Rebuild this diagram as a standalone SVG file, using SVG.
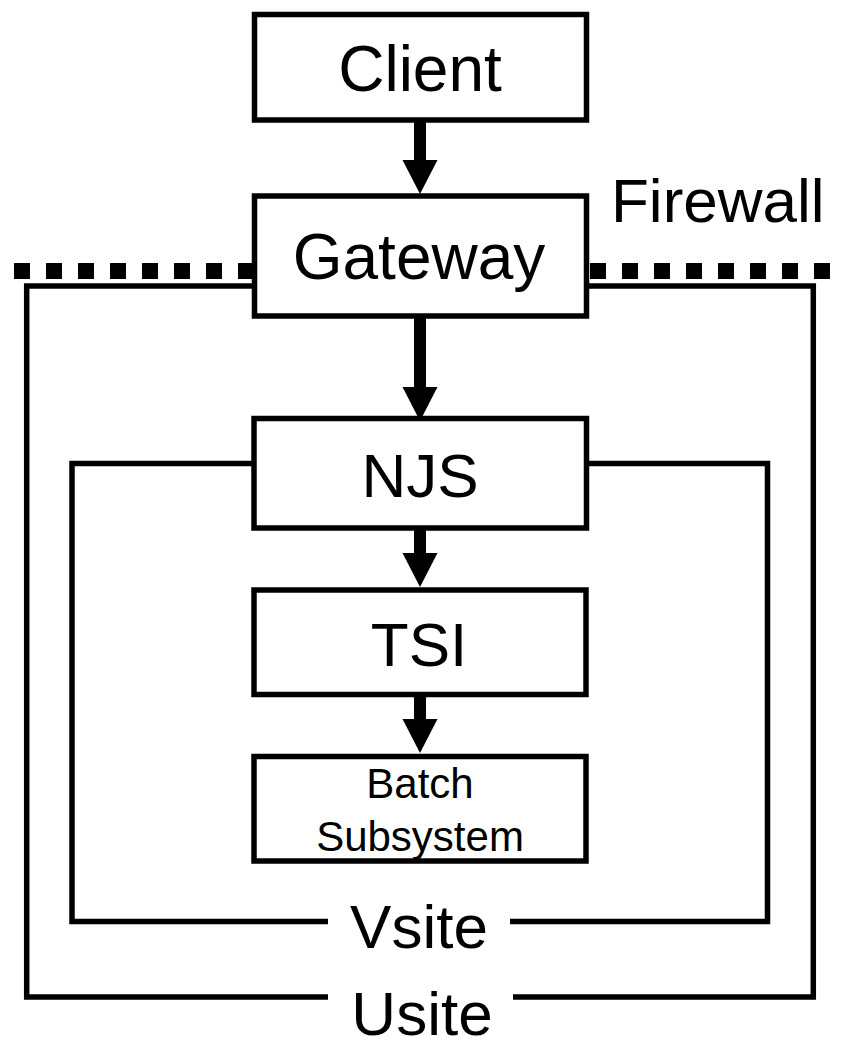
<svg xmlns="http://www.w3.org/2000/svg" width="845" height="1040" viewBox="0 0 845 1040">
<style>
  .box { fill: #fff; stroke: #000; stroke-width: 5.5; }
  .frame { fill: none; stroke: #000; stroke-width: 5.5; }
  .big { font-family: "Liberation Sans", Arial, sans-serif; font-size: 62px; fill: #000; text-anchor: middle; }
  .large { font-size: 64px; }
  .small { font-family: "Liberation Sans", Arial, sans-serif; font-size: 42px; fill: #000; text-anchor: middle; }
  .shaft { stroke: #000; stroke-width: 12; fill: none; }
</style>
<defs>
  <marker id="head" markerUnits="userSpaceOnUse" markerWidth="36" markerHeight="36" viewBox="0 0 34 36" refX="0" refY="18" orient="auto">
    <path d="M0,0.5 L34,18 L0,35.5 z" fill="#000"/>
  </marker>
</defs>
<rect width="845" height="1040" fill="#fff"/>

<g id="firewall">
  <line x1="14" y1="271" x2="832" y2="271" stroke="#000" stroke-width="16" stroke-dasharray="16 16"/>
  <text x="611" y="222" font-family="Liberation Sans, Arial, sans-serif" font-size="62" fill="#000">Firewall</text>
</g>

<g id="usite">
  <path class="frame" d="M254,286 H26.7 V997 H328 M513,997 H813.3 V286 H586"/>
  <text class="big" x="422" y="1035">Usite</text>
</g>

<g id="vsite">
  <path class="frame" d="M254,463.5 H72 V921.5 H328 M510,921.5 H767.5 V463.5 H586"/>
  <text class="big" x="419" y="948">Vsite</text>
</g>

<g id="client">
  <rect class="box" x="254.5" y="14.5" width="332" height="105.5"/>
  <text class="big large" x="420" y="91">Client</text>
</g>

<g id="gateway">
  <rect class="box" x="254.5" y="196" width="332" height="120"/>
  <text class="big large" x="419" y="279">Gateway</text>
</g>

<g id="njs">
  <rect class="box" x="254" y="418.5" width="332.5" height="109.5"/>
  <text class="big" x="420" y="496.5">NJS</text>
</g>

<g id="tsi">
  <rect class="box" x="254" y="590" width="332" height="104.5"/>
  <text class="big" x="419" y="665.5">TSI</text>
</g>

<g id="batch">
  <rect class="box" x="254" y="756.5" width="332" height="104.5"/>
  <text class="small" x="420" y="797.5">Batch</text>
  <text class="small" x="420" y="851">Subsystem</text>
</g>

<g id="connectors">
  <line class="shaft" x1="420" y1="120" x2="420" y2="160" marker-end="url(#head)"/>
  <line class="shaft" x1="420" y1="316" x2="420" y2="387" marker-end="url(#head)"/>
  <line class="shaft" x1="420" y1="528" x2="420" y2="553" marker-end="url(#head)"/>
  <line class="shaft" x1="420" y1="694.5" x2="420" y2="719" marker-end="url(#head)"/>
</g>
</svg>
